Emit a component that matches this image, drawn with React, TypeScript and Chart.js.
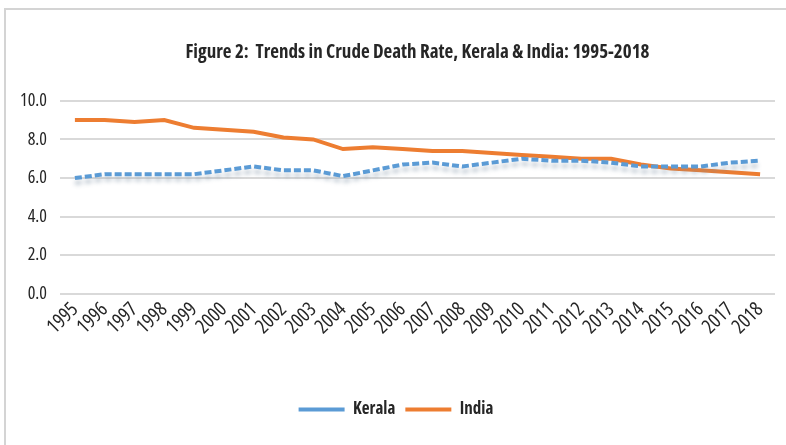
import React, { useEffect, useRef } from "react";
import { Chart, registerables } from "chart.js";

Chart.register(...registerables);

const years = ["1995","1996","1997","1998","1999","2000","2001","2002","2003","2004","2005","2006","2007","2008","2009","2010","2011","2012","2013","2014","2015","2016","2017","2018"];
const kerala = [6.0,6.2,6.2,6.2,6.2,6.4,6.6,6.4,6.4,6.1,6.4,6.7,6.8,6.6,6.8,7.0,6.9,6.9,6.8,6.6,6.6,6.6,6.8,6.9];
const india = [9.0,9.0,8.9,9.0,8.6,8.5,8.4,8.1,8.0,7.5,7.6,7.5,7.4,7.4,7.3,7.2,7.1,7.0,7.0,6.7,6.5,6.4,6.3,6.2];
const titleText = "Figure 2:  Trends in Crude Death Rate, Kerala & India: 1995-2018";

const FONT = "'Open Sans', sans-serif";

const framePlugin = {
  id: "frame",
  beforeDraw(chart: any) {
    const ctx = chart.ctx;
    ctx.save();
    ctx.fillStyle = "#ffffff";
    ctx.fillRect(0, 0, chart.width, chart.height);
    ctx.strokeStyle = "#d4d4d4";
    ctx.lineWidth = 2;
    ctx.beginPath();
    ctx.moveTo(5, chart.height);
    ctx.lineTo(5, 9);
    ctx.lineTo(chart.width, 9);
    ctx.stroke();
    ctx.restore();
  },
};

const shadowPlugin = {
  id: "keralaShadow",
  beforeDatasetDraw(chart: any, args: any) {
    if (args.index === 0) {
      const ctx = chart.ctx;
      ctx.save();
      ctx.shadowColor = "rgba(120,140,160,0.45)";
      ctx.shadowBlur = 4;
      ctx.shadowOffsetY = 5;
    }
  },
  afterDatasetDraw(chart: any, args: any) {
    if (args.index === 0) chart.ctx.restore();
  },
};

export default function App() {
  const ref = useRef<HTMLCanvasElement | null>(null);
  useEffect(() => {
    if (!ref.current) return;
    const chart = new Chart(ref.current, {
      type: "line",
      data: {
        labels: years,
        datasets: [
          {
            label: "Kerala",
            data: kerala,
            borderColor: "#5b9bd5",
            backgroundColor: "#5b9bd5",
            borderWidth: 4,
            borderDash: [7, 3],
            pointRadius: 0,
            tension: 0,
            pointStyle: "line",
          },
          {
            label: "India",
            data: india,
            borderColor: "#ed7d31",
            backgroundColor: "#ed7d31",
            borderWidth: 4,
            pointRadius: 0,
            tension: 0,
            pointStyle: "line",
          },
        ],
      },
      options: {
        animation: false,
        responsive: false,
        maintainAspectRatio: false,
        layout: { padding: { left: 17, right: 11, top: 10, bottom: 17 } },
        plugins: {
          title: {
            display: true,
            fullSize: false,
            text: titleText,
            color: "#262626",
            font: { family: FONT, size: 19, weight: "bold condensed", lineHeight: 1.2 },
            padding: { top: 31, bottom: 37 },
          },
          legend: {
            position: "bottom",
            labels: {
              usePointStyle: true,
              pointStyleWidth: 46,
              color: "#262626",
              font: { family: FONT, size: 17, weight: "bold condensed" },
              padding: 10,
            },
          },
          tooltip: { enabled: false },
        },
        scales: {
          x: {
            offset: true,
            grid: { display: false, drawTicks: false },
            border: { display: false },
            ticks: {
              color: "#262626",
              font: { family: FONT, size: 20, weight: "condensed" },
              minRotation: 45,
              maxRotation: 45,
              autoSkip: false,
              padding: 4,
            },
            afterFit(scale: any) {
              scale.height = 97;
            },
          },
          y: {
            min: 0,
            max: 10,
            grid: { color: "#d9d9d9", lineWidth: 2, drawTicks: false },
            border: { display: false },
            ticks: {
              stepSize: 2,
              color: "#262626",
              font: { family: FONT, size: 18, weight: "condensed" },
              padding: 13,
              callback: (v: any) => Number(v).toFixed(1),
            },
            afterFit(scale: any) {
              scale.width = 43;
            },
          },
        },
      },
      plugins: [framePlugin, shadowPlugin],
    });
    return () => chart.destroy();
  }, []);
  return (
    <div style={{ position: "fixed", left: 0, top: 0, width: 786, height: 445, background: "#fff" }}>
      <canvas ref={ref} width={786} height={445} style={{ width: 786, height: 445, display: "block" }} />
    </div>
  );
}
